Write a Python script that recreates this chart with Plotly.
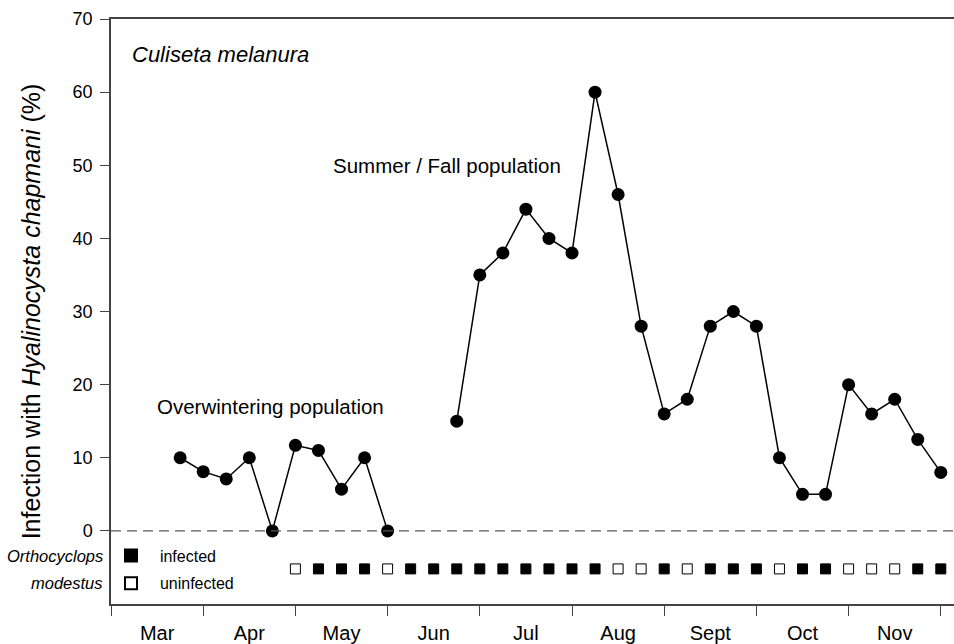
import plotly.graph_objects as go

# ---- data (x in months after 1 March; 0 = Mar 1, 9 = end of Nov) ----
months = ["Mar", "Apr", "May", "Jun", "Jul", "Aug", "Sept", "Oct", "Nov"]
month_starts = [0, 1, 2, 3, 4, 5, 6, 7, 8, 9]
month_mids = [0.5, 1.5, 2.5, 3.5, 4.5, 5.5, 6.5, 7.5, 8.5]

overwinter_x = [0.75, 1.0, 1.25, 1.5, 1.75, 2.0, 2.25, 2.5, 2.75, 3.0]
overwinter_y = [10, 8.1, 7.1, 10, 0, 11.7, 11, 5.7, 10, 0]

summer_x = [3.75, 4.0, 4.25, 4.5, 4.75, 5.0, 5.25, 5.5, 5.75, 6.0, 6.25,
            6.5, 6.75, 7.0, 7.25, 7.5, 7.75, 8.0, 8.25, 8.5, 8.75, 9.0]
summer_y = [15, 35, 38, 44, 40, 38, 60, 46, 28, 16, 18,
            28, 30, 28, 10, 5, 5, 20, 16, 18, 12.5, 8]

copepod_x = [2.0, 2.25, 2.5, 2.75, 3.0, 3.25, 3.5, 3.75, 4.0, 4.25, 4.5,
             4.75, 5.0, 5.25, 5.5, 5.75, 6.0, 6.25, 6.5, 6.75, 7.0, 7.25,
             7.5, 7.75, 8.0, 8.25, 8.5, 8.75, 9.0]
copepod_status = ["U", "I", "I", "I", "U", "I", "I", "I", "I", "I", "I",
                  "I", "I", "I", "U", "U", "I", "U", "I", "I", "I", "U",
                  "I", "I", "U", "U", "U", "I", "I"]

y_ticks = [0, 10, 20, 30, 40, 50, 60, 70]

# ---- style / layout constants ----
FONT = "Arial, Liberation Sans, sans-serif"
AXIS_COLOR = "#444444"
ROW_Y = -5.2

fig = go.Figure()

line_style = dict(color="black", width=1.5)
marker_style = dict(color="black", size=13, symbol="circle")
fig.add_trace(go.Scatter(x=overwinter_x, y=overwinter_y, mode="lines+markers",
                         line=line_style, marker=marker_style, showlegend=False))
fig.add_trace(go.Scatter(x=summer_x, y=summer_y, mode="lines+markers",
                         line=line_style, marker=marker_style, showlegend=False))

inf_x = [x for x, s in zip(copepod_x, copepod_status) if s == "I"]
uninf_x = [x for x, s in zip(copepod_x, copepod_status) if s == "U"]
fig.add_trace(go.Scatter(x=inf_x, y=[ROW_Y] * len(inf_x), mode="markers",
                         name="  infected", legendgroup="inf",
                         marker=dict(symbol="square", size=10, color="black",
                                     line=dict(color="black", width=1))))
fig.add_trace(go.Scatter(x=uninf_x, y=[ROW_Y] * len(uninf_x), mode="markers",
                         name="  uninfected", legendgroup="uninf",
                         marker=dict(symbol="square", size=10, color="white",
                                     line=dict(color="black", width=1))))

# dashed zero line
fig.add_hline(y=0, line=dict(color="#555555", width=1.2, dash="10px,6px"))

fig.update_layout(
    width=954, height=644,
    margin=dict(l=111, r=0, t=19, b=40),
    paper_bgcolor="white", plot_bgcolor="white",
    font=dict(family=FONT, color="black"),
    showlegend=True,
    legend=dict(x=0, y=0.112, xanchor="left", yanchor="top",
                bgcolor="rgba(0,0,0,0)", font=dict(size=16, family=FONT),
                itemsizing="constant", tracegroupgap=4),
    xaxis=dict(range=[0, 843 / 92.2], showgrid=False, zeroline=False,
               showline=True, linecolor=AXIS_COLOR, linewidth=1.5, mirror=True,
               tickmode="array", tickvals=month_mids, ticktext=months,
               ticks="outside", ticklen=10, tickcolor="rgba(0,0,0,0)",
               tickfont=dict(size=20, family=FONT, color="black"),
               minor=dict(tickmode="array", tickvals=month_starts, ticks="outside",
                          ticklen=10, tickcolor=AXIS_COLOR, tickwidth=1.2)),
    yaxis=dict(range=[-10, 70], showgrid=False, zeroline=False,
               showline=True, linecolor=AXIS_COLOR, linewidth=1.5,
               tickmode="array", tickvals=y_ticks,
               ticks="outside", ticklen=9, tickcolor=AXIS_COLOR, tickwidth=1.2,
               ticklabelstandoff=4,
               tickfont=dict(size=18, family=FONT, color="black"),
               title=dict(text="Infection with <i>Hyalinocysta chapmani</i> (%)",
                          font=dict(size=25, family=FONT, color="black"),
                          standoff=25)),
)

# text labels
fig.add_annotation(x=0.206, y=65.1, xref="x", yref="y", text="<i>Culiseta melanura</i>",
                   showarrow=False, xanchor="left", yanchor="middle",
                   font=dict(size=22, family=FONT, color="black"))
fig.add_annotation(x=2.39, y=50.0, xref="x", yref="y", text="Summer / Fall population",
                   showarrow=False, xanchor="left", yanchor="middle",
                   font=dict(size=20.5, family=FONT, color="black"))
fig.add_annotation(x=0.475, y=17.0, xref="x", yref="y", text="Overwintering population",
                   showarrow=False, xanchor="left", yanchor="middle",
                   font=dict(size=20.5, family=FONT, color="black"))
fig.add_annotation(x=0, y=-3.4, xref="paper", yref="y", text="<i>Orthocyclops</i>",
                   showarrow=False, xanchor="right", yanchor="middle", xshift=-6,
                   font=dict(size=16.5, family=FONT, color="black"))
fig.add_annotation(x=0, y=-7.1, xref="paper", yref="y", text="<i>modestus</i>",
                   showarrow=False, xanchor="right", yanchor="middle", xshift=-6,
                   font=dict(size=16.5, family=FONT, color="black"))

fig.write_html("out.html", config={"displayModeBar": False},
               post_script="document.body.style.margin='0';")
